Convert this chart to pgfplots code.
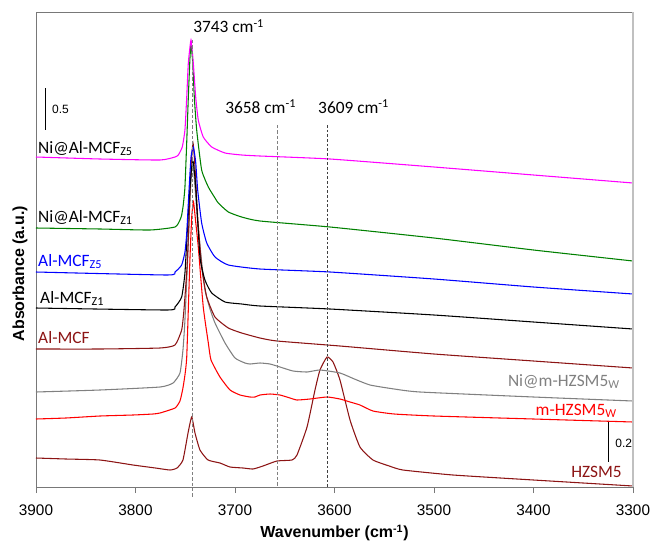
\documentclass[border=0pt]{standalone}
\usepackage{pgfplots}
\pgfplotsset{compat=1.18}
\usepackage{fontspec}
\setmainfont{Carlito}
\newfontfamily\arialf{Liberation Sans}
\definecolor{dred}{RGB}{140,20,20}
\definecolor{mgreen}{RGB}{0,128,0}
\definecolor{mmag}{RGB}{255,0,255}
\definecolor{mgray}{RGB}{128,128,128}
\definecolor{axgray}{RGB}{120,120,120}
\definecolor{rgray}{RGB}{192,192,192}
\newcommand\lab{\fontsize{13}{15}\selectfont}
\begin{document}
\begin{tikzpicture}
\path[use as bounding box] (-27pt,-39.75pt) rectangle (462pt,365.25pt);
\begin{axis}[
  scale only axis, width=447.75pt, height=356.25pt,
  at={(0,0)}, anchor=south west,
  x dir=reverse, xmin=3300, xmax=3900, ymin=0, ymax=475,
  xtick={3300,3400,3500,3600,3700,3800,3900}, ytick=\empty,
  xtick pos=left, tick align=outside, major tick length=4.5pt,
  axis line style={draw=axgray, line width=0.6pt},
  xtick style={draw=axgray, line width=0.6pt},
  clip=false,
  xticklabel style={font=\arialf\fontsize{11.5}{13}\selectfont, anchor=center, yshift=-13pt},
  /pgf/number format/assume math mode=true,
  /pgf/number format/set thousands separator={},
  xlabel={\textbf{Wavenumber (cm\textsuperscript{-1})}},
  ylabel={\textbf{Absorbance (a.u.)}},
  xlabel style={at={(axis description cs:0.5,-0.0968)}, anchor=center, font=\arialf\fontsize{12}{14}\selectfont},
  ylabel style={at={(axis description cs:-0.0268,0.449)}, anchor=center, font=\arialf\fontsize{12}{14}\selectfont},
  every axis plot/.append style={line width=0.8pt, smooth, tension=0.3},
]
% HZSM5
\addplot[dred] coordinates {(3900,29)(3870,28)(3835.7,27)(3802.5,22)(3780,19)(3765.3,17)(3758.3,19)(3752.3,27)(3747.2,54)(3743.5,70)(3740.2,54)(3735.2,37)(3727.1,27)(3715.1,24)(3705.0,20)(3691.9,19)(3681.9,18)(3671.9,21)(3657.8,26)(3642.7,27)(3637.7,32)(3627.6,60)(3619.6,97)(3614.6,117)(3607.5,130)(3601.5,125)(3594.5,107)(3584.4,67)(3574.4,40)(3561.3,27)(3545,21)(3531.2,17)(3480.9,12)(3400,7)(3300,1)};
% m-HZSM5_W
\addplot[red] coordinates {(3900,68)(3870,69)(3835.7,71)(3802.5,72)(3782.4,73)(3775.4,74)(3760.3,79)(3755.3,86)(3752.5,98)(3750.3,112)(3748.5,130)(3746.2,200)(3745.2,230)(3743.5,270)(3741.7,285)(3739.5,265)(3736.9,240)(3731.9,180)(3726.8,144)(3724.1,127)(3715.1,110)(3705.0,97)(3694.9,92)(3684.9,90)(3679.9,90)(3674.9,92)(3664.8,93)(3654.8,92)(3644.7,89)(3637.7,87)(3624.6,88)(3607.5,90)(3594.5,88)(3584.4,85)(3574.4,82)(3561.3,76)(3540,73)(3500,71)(3400,68)(3300,65)};
% Ni@m-HZSM5_W
\addplot[mgray] coordinates {(3900,95)(3835.7,97)(3775.4,100)(3762.3,104)(3755.3,114)(3752.3,137)(3750.3,167)(3747.2,237)(3745.2,287)(3742.7,327)(3740.2,300)(3737.5,265)(3733.5,225)(3730.2,197)(3725.1,178)(3720.1,164)(3710.0,144)(3700.0,129)(3690,124)(3684.9,123)(3674.9,124)(3664.8,123)(3654.8,120)(3641.7,116)(3627.6,115)(3614.6,117)(3594.5,114)(3580,108)(3564.3,102)(3540,98)(3514.1,95)(3400,90)(3300,86)};
% Al-MCF
\addplot[dred] coordinates {(3900,138)(3835.7,138)(3775.4,139)(3760.3,142)(3753.6,157)(3751.3,177)(3748.2,220)(3746.2,267)(3744.2,320)(3742.2,344)(3740.2,320)(3737.5,270)(3733.5,220)(3728.4,190)(3720.1,170)(3706.7,159)(3693.3,154)(3674.9,149)(3657.8,146)(3594.5,141)(3500,133)(3400,126)(3300,119)};
% Al-MCF_Z1
\addplot[black] coordinates {(3900,179)(3768.3,177)(3760.3,180)(3753.6,190)(3750.3,214)(3747.5,264)(3745.2,300)(3743.5,320)(3741.9,325)(3739.5,300)(3735.2,230)(3730.2,207)(3723.4,194)(3710.0,185)(3693.3,183)(3674.9,181)(3604.5,178)(3500,172)(3400,165)(3300,158)};
% Al-MCF_Z5
\addplot[blue] coordinates {(3900,215)(3768.3,212)(3760.3,215)(3753.6,222)(3750.3,235)(3748.5,254)(3746.2,297)(3744.2,330)(3741.9,340)(3739.5,325)(3737.5,297)(3733.5,264)(3728.4,244)(3720.1,230)(3706.7,222)(3674.9,218)(3604.5,215)(3500,208)(3400,200)(3300,193)};
% Ni@Al-MCF_Z1
\addplot[mgreen] coordinates {(3900,259)(3835.7,258)(3785.4,257)(3760.3,260)(3755.3,267)(3753.6,272)(3752.0,282)(3750.3,300)(3748.5,345)(3746.9,390)(3745.2,430)(3744.2,442)(3742.5,425)(3740.9,390)(3738.5,357)(3733.5,317)(3726.8,300)(3720.1,289)(3716.8,284)(3706.7,275)(3693.3,270)(3674.9,266)(3604.5,260)(3500,249)(3400,237)(3300,226)};
% Ni@Al-MCF_Z5
\addplot[mmag] coordinates {(3900,330)(3835.7,328)(3775.4,327)(3760.3,330)(3757.0,332)(3753.0,340)(3750.3,357)(3748.5,390)(3746.9,424)(3744.2,447)(3741.9,424)(3739.5,390)(3736.9,367)(3731.9,350)(3723.4,340)(3710.0,334)(3693.3,332)(3674.9,331)(3604.5,328)(3500,320)(3400,312)(3300,304)};
% reference lines
\draw[mgray, line width=0.7pt, dash pattern=on 2.5pt off 1.5pt] (axis cs:3743.2,447) -- (axis cs:3743.2,-11);
\draw[mgray, line width=0.7pt, dash pattern=on 2.5pt off 1.5pt] (axis cs:3657.8,362) -- (axis cs:3657.8,0);
\draw[black!75, line width=0.6pt, dash pattern=on 2pt off 1.5pt] (axis cs:3607.5,362) -- (axis cs:3607.5,0);
\draw[rgray, line width=1.5pt] (rel axis cs:1,0) -- (rel axis cs:1,1);
% scale bars
\draw[black, line width=0.7pt] (axis cs:3890.3,399) -- (axis cs:3890.3,357);
\node[anchor=west, inner sep=0, font=\arialf\fontsize{9}{11}\selectfont] at (axis cs:3884,378) {0.5};
\draw[black, line width=0.7pt] (axis cs:3325.1,65) -- (axis cs:3325.1,25);
\node[anchor=west, inner sep=0, font=\arialf\fontsize{9}{11}\selectfont] at (axis cs:3318,44) {0.2};
% annotations
\node[anchor=base west, inner sep=0, font=\lab] at (axis cs:3742.2,454) {3743 cm\textsuperscript{-1}};
\node[anchor=base west, inner sep=0, font=\lab] at (axis cs:3710,374) {3658 cm\textsuperscript{-1}};
\node[anchor=base west, inner sep=0, font=\lab] at (axis cs:3616.6,374) {3609 cm\textsuperscript{-1}};
% series labels
\node[anchor=base west, inner sep=0, font=\lab] at (axis cs:3898,334) {Ni@Al-MCF\textsubscript{Z5}};
\node[anchor=base west, inner sep=0, font=\lab] at (axis cs:3898,265) {Ni@Al-MCF\textsubscript{Z1}};
\node[anchor=base west, inner sep=0, font=\lab, text=blue] at (axis cs:3898,221) {Al-MCF\textsubscript{Z5}};
\node[anchor=base west, inner sep=0, font=\lab] at (axis cs:3896,184) {Al-MCF\textsubscript{Z1}};
\node[anchor=base west, inner sep=0, font=\lab, text=dred] at (axis cs:3898,144) {Al-MCF};
\node[anchor=base east, inner sep=0, font=\lab, text=mgray] at (axis cs:3313,101) {Ni@m-HZSM5\textsubscript{W}};
\node[anchor=base east, inner sep=0, font=\lab, text=red] at (axis cs:3316,72) {m-HZSM5\textsubscript{W}};
\node[anchor=base east, inner sep=0, font=\lab, text=dred] at (axis cs:3311,10) {HZSM5};
\end{axis}
\end{tikzpicture}
\end{document}
